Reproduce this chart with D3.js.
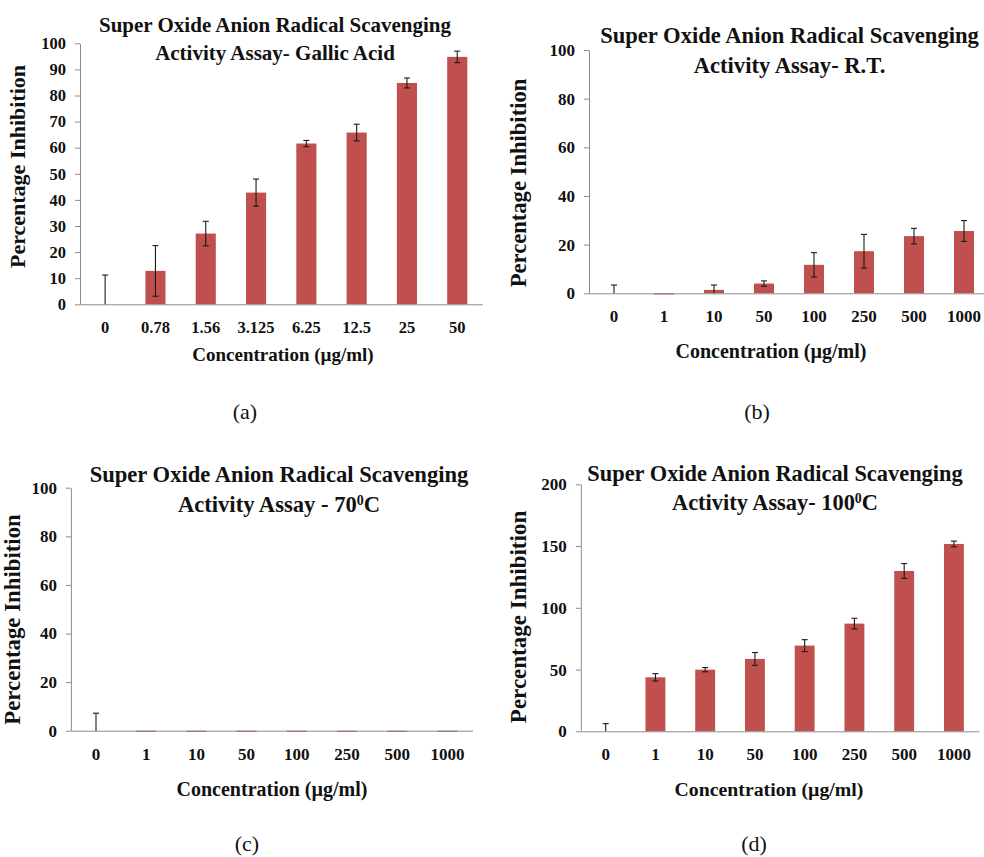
<!DOCTYPE html>
<html>
<head>
<meta charset="utf-8">
<script src="https://cdn.jsdelivr.net/npm/d3@7"></script>
<style>
  html, body { margin: 0; padding: 0; background: #fff; }
  svg text { font-family: "Liberation Serif", "Times New Roman", serif; fill: #111; }
</style>
</head>
<body>
<svg id="fig" width="984" height="857"></svg>
<script>
// Concentration categories (µg/ml)
const catsGallic = ["0", "0.78", "1.56", "3.125", "6.25", "12.5", "25", "50"];
const catsExtract = ["0", "1", "10", "50", "100", "250", "500", "1000"];

// Percentage inhibition (mean) and error (±) per concentration
const gallicValues = [0, 12.8, 27.1, 42.8, 61.6, 65.8, 84.8, 94.8];
const gallicErrors = [11.2, 9.7, 4.7, 5.2, 1.2, 3.2, 1.9, 2.2];

const rtValues = [0, -0.5, 1.4, 4.0, 11.7, 17.3, 23.5, 25.6];
const rtErrors = [3.4, 0, 2.0, 1.1, 5.0, 6.9, 3.2, 4.3];

const t70Values = [0, -0.5, -0.5, -0.5, -0.5, -0.5, -0.5, -0.5];
const t70Errors = [7.2, 0, 0, 0, 0, 0, 0, 0];

const t100Values = [0, 43.7, 49.9, 58.6, 69.4, 87.2, 129.8, 151.7];
const t100Errors = [6.2, 3.0, 1.7, 5.2, 4.8, 4.3, 6.0, 2.3];

// Y-axis tick values
const ticksTo100By10 = d3.range(0, 101, 10);
const ticksTo100By20 = d3.range(0, 101, 20);
const ticksTo200By50 = d3.range(0, 201, 50);

const titleLine1 = "Super Oxide Anion Radical Scavenging";

const panels = [
  {
    cats: catsGallic, values: gallicValues, errors: gallicErrors,
    yMax: 100, ticks: ticksTo100By10,
    xRange: [80, 482.4], yRange: [304.3, 43.3],
    title: [[{ t: titleLine1 }], [{ t: "Activity Assay- Gallic Acid" }]],
    titleX: 275, titleY: [31.7, 59.5], titleSize: 21,
    tickSize: 16.5, yTitleSize: 22, xTitleSize: 19,
    yTitleX: 24.5, yTitleY: 166.5,
    xTitleX: 283, xTitleY: 361,
    label: "(a)", labelX: 245, labelY: 419
  },
  {
    cats: catsExtract, values: rtValues, errors: rtErrors,
    yMax: 100, ticks: ticksTo100By20,
    xRange: [589, 989], yRange: [293.3, 50],
    title: [[{ t: titleLine1 }], [{ t: "Activity Assay- R.T." }]],
    titleX: 789.5, titleY: [43.3, 72.7], titleSize: 22.6,
    tickSize: 17, yTitleSize: 22.6, xTitleSize: 20,
    yTitleX: 525.5, yTitleY: 183,
    xTitleX: 771, xTitleY: 358,
    label: "(b)", labelX: 757, labelY: 419
  },
  {
    cats: catsExtract, values: t70Values, errors: t70Errors,
    yMax: 100, ticks: ticksTo100By20,
    xRange: [70.9, 472.5], yRange: [730.7, 487.7],
    title: [[{ t: titleLine1 }], [{ t: "Activity Assay - 70" }, { t: "0", sup: true }, { t: "C" }]],
    titleX: 279, titleY: [481.7, 511.7], titleSize: 22.6,
    tickSize: 17, yTitleSize: 22.8, xTitleSize: 20,
    yTitleX: 19.5, yTitleY: 619.5,
    xTitleX: 272, xTitleY: 796,
    label: "(c)", labelX: 247, labelY: 851
  },
  {
    cats: catsExtract, values: t100Values, errors: t100Errors,
    yMax: 200, ticks: ticksTo200By50,
    xRange: [580.8, 978.8], yRange: [731.3, 484.3],
    title: [[{ t: titleLine1 }], [{ t: "Activity Assay- 100" }, { t: "0", sup: true }, { t: "C" }]],
    titleX: 775, titleY: [480.7, 510], titleSize: 22.4,
    tickSize: 17, yTitleSize: 23, xTitleSize: 19.8,
    yTitleX: 525.5, yTitleY: 617,
    xTitleX: 769, xTitleY: 796,
    label: "(d)", labelX: 754, labelY: 851
  }
];

const svg = d3.select("#fig");
const barColor = "#c0504d";
const axisColor = "#8c8c8c";
const serif = "Liberation Serif, Times New Roman, serif";

function drawPanel(p) {
  const g = svg.append("g");
  const x = d3.scaleBand().domain(p.cats).range(p.xRange)
    .paddingInner(0.6).paddingOuter(0.3);
  const y = d3.scaleLinear().domain([0, p.yMax]).range(p.yRange);
  const rows = p.cats.map((c, i) => ({ c, v: p.values[i], e: p.errors[i] }));

  // bars
  g.append("g").selectAll("rect").data(rows).join("rect")
    .attr("x", d => x(d.c))
    .attr("width", x.bandwidth())
    .attr("y", d => Math.min(y(d.v), y(0)))
    .attr("height", d => Math.abs(y(d.v) - y(0)))
    .attr("fill", barColor);

  // value axis
  const yAxis = g.append("g")
    .attr("transform", `translate(${p.xRange[0]},0)`)
    .call(d3.axisLeft(y).tickValues(p.ticks).tickSize(5).tickSizeOuter(0).tickPadding(9));
  yAxis.attr("font-family", serif);
  yAxis.select(".domain").attr("stroke", axisColor);
  yAxis.selectAll(".tick line").attr("stroke", axisColor);
  yAxis.selectAll(".tick text")
    .attr("font-size", p.tickSize).attr("font-weight", "bold")
    .attr("fill", "#111");

  // category axis
  const xAxis = g.append("g")
    .attr("transform", `translate(0,${y(0)})`)
    .call(d3.axisBottom(x).tickSize(0).tickSizeOuter(0).tickPadding(17));
  xAxis.attr("font-family", serif);
  xAxis.select(".domain").attr("stroke", axisColor);
  xAxis.selectAll(".tick text")
    .attr("font-size", p.tickSize).attr("font-weight", "bold")
    .attr("fill", "#111");

  // error bars, clipped at the bottom of the value axis
  const cap = 3;
  const eb = g.append("g").attr("stroke", "#1a1a1a").attr("stroke-width", 1.1).attr("fill", "none");
  rows.filter(d => d.e > 0).forEach(d => {
    const cx = x(d.c) + x.bandwidth() / 2;
    const hi = d.v + d.e;
    const loRaw = d.v - d.e;
    const lo = Math.max(loRaw, 0);
    eb.append("line").attr("x1", cx).attr("x2", cx).attr("y1", y(lo)).attr("y2", y(hi));
    eb.append("line").attr("x1", cx - cap).attr("x2", cx + cap).attr("y1", y(hi)).attr("y2", y(hi));
    if (loRaw >= 0) {
      eb.append("line").attr("x1", cx - cap).attr("x2", cx + cap).attr("y1", y(lo)).attr("y2", y(lo));
    }
  });

  // chart title, two lines
  p.title.forEach((parts, i) => {
    const t = g.append("text")
      .attr("x", p.titleX).attr("y", p.titleY[i])
      .attr("text-anchor", "middle")
      .attr("font-size", p.titleSize).attr("font-weight", "bold");
    parts.forEach(part => {
      const ts = t.append("tspan").text(part.t);
      if (part.sup) ts.attr("font-size", p.titleSize * 0.62).attr("baseline-shift", "super");
    });
  });

  // axis titles
  g.append("text")
    .attr("transform", `translate(${p.yTitleX},${p.yTitleY}) rotate(-90)`)
    .attr("text-anchor", "middle")
    .attr("font-size", p.yTitleSize).attr("font-weight", "bold")
    .text("Percentage Inhibition");
  g.append("text")
    .attr("x", p.xTitleX).attr("y", p.xTitleY)
    .attr("text-anchor", "middle")
    .attr("font-size", p.xTitleSize).attr("font-weight", "bold")
    .text("Concentration (µg/ml)");

  // panel letter
  g.append("text")
    .attr("x", p.labelX).attr("y", p.labelY)
    .attr("text-anchor", "middle")
    .attr("font-size", 22)
    .text(p.label);
}

panels.forEach(drawPanel);
</script>
</body>
</html>
